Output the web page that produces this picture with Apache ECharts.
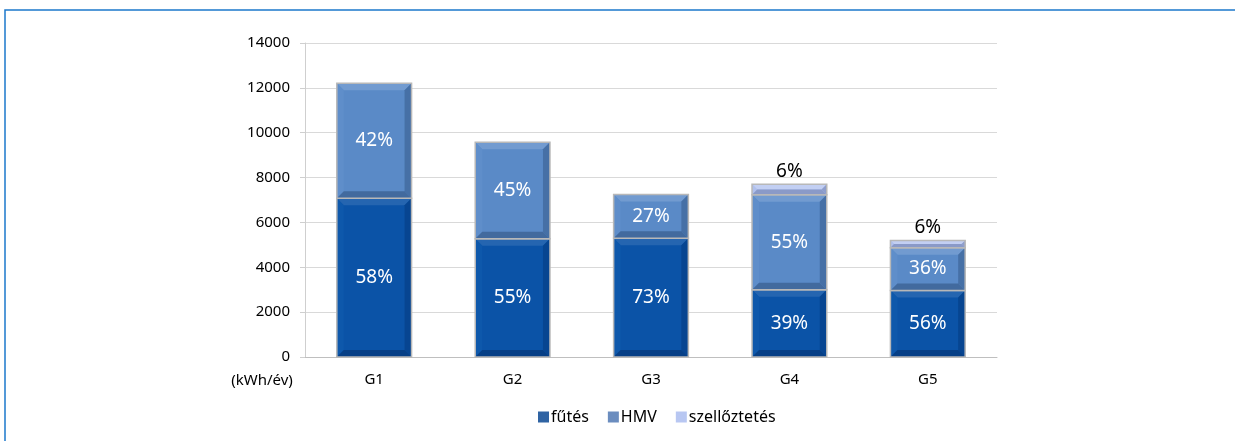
<!DOCTYPE html>
<html>
<head>
<meta charset="utf-8">
<script src="https://cdn.jsdelivr.net/npm/echarts@6/dist/echarts.min.js"></script>
<style>
  html, body { margin: 0; padding: 0; background: #fff; }
  #chart { width: 1235px; height: 441px; }
</style>
</head>
<body>
<div id="chart"></div>
<script>
// Annual energy demand per building (kWh/év), split by use
const categories = ['G1', 'G2', 'G3', 'G4', 'G5'];
const totals = [12200, 9580, 7250, 7700, 5300];
const futesPct = [58, 55, 73, 39, 56];
const hmvPct = [42, 45, 27, 55, 36];
const szellPct = [0, 0, 0, 6, 6];
const yTicks = [0, 2000, 4000, 6000, 8000, 10000, 12000, 14000];

const FONT = '"Noto Sans", "Open Sans", sans-serif';

// segment values from total and share
const futes = totals.map((t, i) => t * futesPct[i] / 100);
const hmv = totals.map((t, i) => t * hmvPct[i] / 100);
const szell = totals.map((t, i) => t * szellPct[i] / 100);

// stacked rows: [category, base, top, percent]
function stackRows(vals, bases, pcts) {
  return vals.map((v, i) => [i, bases[i], bases[i] + v, pcts[i]]);
}
const zero = categories.map(() => 0);
const base2 = futes.slice();
const base3 = futes.map((v, i) => v + hmv[i]);

// bevelled box renderer
function bevel(pal, outsideLabel) {
  return function (params, api) {
    const cat = api.value(0), lo = api.value(1), hi = api.value(2), pct = api.value(3);
    if (!(hi > lo)) return null;
    const pb = api.coord([cat, lo]);
    const pt = api.coord([cat, hi]);
    const bw = api.size([1, 0])[0] * 0.54;
    const x0 = pb[0] - bw / 2, x1 = pb[0] + bw / 2;
    const yb = pb[1], yt = pt[1];
    const b = Math.min(7, (yb - yt) / 2);
    const children = [
      { type: 'rect', shape: { x: x0, y: yt, width: bw, height: yb - yt }, style: { fill: pal.face } },
      { type: 'polygon', shape: { points: [[x0, yt], [x1, yt], [x1 - b, yt + b], [x0 + b, yt + b]] }, style: { fill: pal.top } },
      { type: 'polygon', shape: { points: [[x0, yt], [x0 + b, yt + b], [x0 + b, yb - b], [x0, yb]] }, style: { fill: pal.left } },
      { type: 'polygon', shape: { points: [[x1, yt], [x1, yb], [x1 - b, yb - b], [x1 - b, yt + b]] }, style: { fill: pal.right } },
      { type: 'polygon', shape: { points: [[x0, yb], [x1, yb], [x1 - b, yb - b], [x0 + b, yb - b]] }, style: { fill: pal.bottom } },
      { type: 'rect', shape: { x: x0, y: yt, width: bw, height: yb - yt }, style: { fill: 'none', stroke: '#b8b8b8', lineWidth: 1.5 } }
    ];
    if (outsideLabel) {
      children.push({ type: 'text', style: { x: pb[0], y: yt - 3, text: pct + '%', fill: '#000', font: '19px ' + FONT, align: 'center', verticalAlign: 'bottom' } });
    } else {
      children.push({ type: 'text', style: { x: pb[0], y: (yt + yb) / 2, text: pct + '%', fill: '#fff', font: '19px ' + FONT, align: 'center', verticalAlign: 'middle' } });
    }
    return { type: 'group', children: children };
  };
}

const palFutes = { face: '#0b53a7', top: '#2565b0', left: '#0e58ab', right: '#074591', bottom: '#063f86' };
const palHmv = { face: '#5a8ac7', top: '#729bd0', left: '#5f8eca', right: '#4670a6', bottom: '#426a9e' };
const palSzell = { face: '#a9bae9', top: '#c2cff3', left: '#b0c0ed', right: '#8e9ecc', bottom: '#8a9ac8' };

const chart = echarts.init(document.getElementById('chart'), null, { renderer: 'canvas' });

chart.setOption({
  animation: false,
  textStyle: { fontFamily: FONT },
  grid: { left: 305, right: 238, top: 43, bottom: 84, containLabel: false },
  xAxis: {
    type: 'category',
    data: categories,
    axisLine: { show: true, lineStyle: { color: '#bfbfbf', width: 1 } },
    axisTick: { show: false },
    axisLabel: { color: '#000', fontSize: 15, margin: 15, fontFamily: FONT }
  },
  yAxis: {
    type: 'value',
    min: 0,
    max: yTicks[yTicks.length - 1],
    interval: yTicks[1] - yTicks[0],
    axisLine: { show: true, lineStyle: { color: '#cfcfcf', width: 1 } },
    axisTick: { show: true, length: 5, lineStyle: { color: '#cfcfcf' } },
    splitLine: { show: true, lineStyle: { color: '#d9d9d9', width: 1 } },
    axisLabel: { color: '#000', fontSize: 15, margin: 15, fontFamily: FONT, formatter: v => String(v) }
  },
  legend: {
    data: ['fűtés', 'HMV', 'szellőztetés'],
    left: 533,
    top: 404,
    icon: 'rect',
    itemWidth: 11,
    itemHeight: 11,
    itemGap: 19,
    textStyle: { color: '#000', fontSize: 16, fontFamily: FONT, padding: [0, 0, 0, -3] }
  },
  graphic: [
    { type: 'rect', shape: { x: 5, y: 10, width: 1400, height: 600 }, style: { fill: 'none', stroke: '#1c78cc', lineWidth: 1.5 }, silent: true },
    { type: 'text', x: 262, y: 381, style: { text: '(kWh/év)', fill: '#000', font: '15px ' + FONT, align: 'center', verticalAlign: 'middle' } }
  ],
  series: [
    { name: 'fűtés', type: 'custom', itemStyle: { color: '#2f63a3' }, renderItem: bevel(palFutes, false), encode: { x: 0, y: [1, 2] }, data: stackRows(futes, zero, futesPct) },
    { name: 'HMV', type: 'custom', itemStyle: { color: '#6b8dbf' }, renderItem: bevel(palHmv, false), encode: { x: 0, y: [1, 2] }, data: stackRows(hmv, base2, hmvPct) },
    { name: 'szellőztetés', type: 'custom', itemStyle: { color: '#b8c7f2' }, renderItem: bevel(palSzell, true), encode: { x: 0, y: [1, 2] }, data: stackRows(szell, base3, szellPct) }
  ]
});
</script>
</body>
</html>
